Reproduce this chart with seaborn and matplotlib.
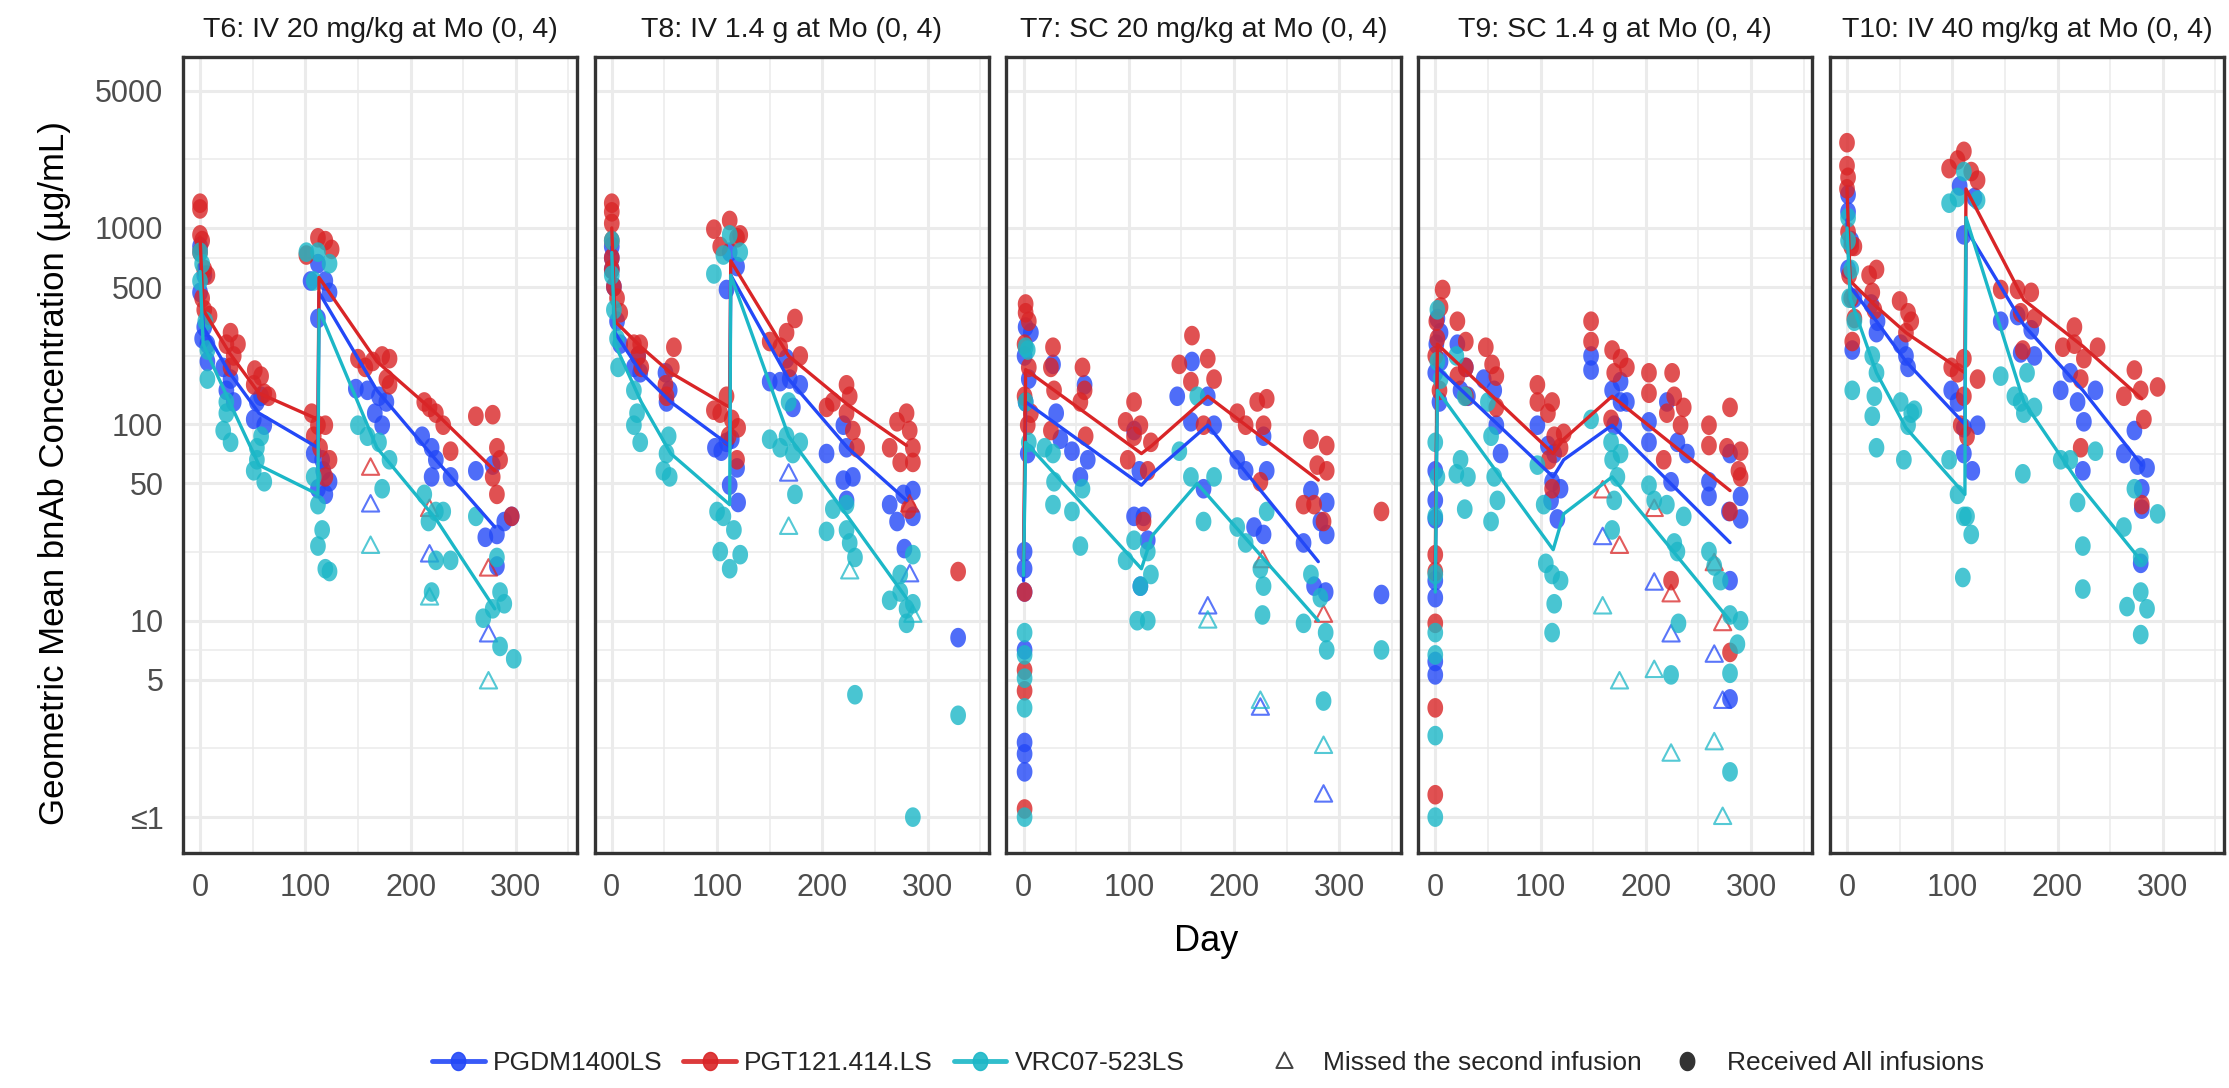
import numpy as np
import pandas as pd
import matplotlib
matplotlib.use("Agg")
import matplotlib.pyplot as plt
from matplotlib.path import Path
from matplotlib.lines import Line2D
from matplotlib.ticker import FixedLocator, NullFormatter
import seaborn as sns

sns.set_style("white")
plt.rcParams["font.family"] = ["Liberation Sans", "DejaVu Sans"]

panel_ids = ["T6", "T8", "T7", "T9", "T10"]
panel_titles = ["T6: IV 20 mg/kg at Mo (0, 4)", "T8: IV 1.4 g at Mo (0, 4)",
                "T7: SC 20 mg/kg at Mo (0, 4)", "T9: SC 1.4 g at Mo (0, 4)",
                "T10: IV 40 mg/kg at Mo (0, 4)"]
bnabs = ["PGDM1400LS", "PGT121.414.LS", "VRC07-523LS"]
bnab_colors = ["#2348F7", "#D92527", "#1CB7C7"]

y_breaks = [1, 5, 10, 50, 100, 500, 1000, 5000]
y_labels = ["≤1", "5", "10", "50", "100", "500", "1000", "5000"]
x_breaks = [0, 100, 200, 300]

# ---------------- T6 ----------------
t6_pgdm = [(0, 805), (4, 575), (0, 470), (4, 313), (7, 256), (7, 209), (2, 273),
           (22, 195), (29, 170), (32, 130), (25, 149),
           (58, 139), (51, 106), (61, 99), (54, 130),
           (108, 71), (116, 66), (112, 47), (119, 44), (123, 51), (117, 58),
           (112, 658), (119, 537), (105, 537), (123, 470), (112, 346),
           (148, 152), (159, 149), (170, 139), (177, 130), (166, 114), (173, 99),
           (211, 87), (220, 76), (224, 66), (220, 54), (238, 54),
           (262, 58), (278, 62), (271, 26.6), (282, 27.5), (289, 32), (296, 34), (282, 19)]
t6_pgt = [(0, 1337), (0, 1250), (0, 922), (2, 862), (0, 753), (4, 615), (7, 575), (2, 439), (4, 383), (9, 358),
          (29, 293), (25, 256), (32, 223), (29, 195), (36, 256),
          (52, 189), (58, 176), (51, 159), (61, 144), (65, 139),
          (106, 114), (112, 99), (119, 99), (108, 87), (114, 76), (123, 66), (119, 54),
          (112, 891), (119, 862), (125, 778), (101, 728),
          (150, 216), (157, 195), (164, 209), (173, 223), (180, 216), (177, 170), (180, 159),
          (213, 130), (218, 122), (224, 114), (231, 99), (238, 73),
          (262, 110), (278, 112), (282, 76), (285, 66), (278, 54), (282, 44), (296, 34)]
t6_vrc = [(2, 658), (0, 537), (5, 335), (7, 239), (7, 170), (0, 753),
          (25, 130), (22, 93), (29, 81), (25, 114),
          (54, 76), (51, 58), (61, 51), (58, 87), (54, 66),
          (108, 54), (112, 39), (116, 29), (112, 24), (119, 18.4), (123, 17.8),
          (101, 753), (112, 753), (123, 658), (108, 537),
          (150, 99), (159, 87), (170, 81), (180, 66), (173, 47),
          (213, 44), (217, 32), (224, 36), (231, 36), (224, 20.3), (238, 20.3), (220, 14),
          (262, 34), (282, 21), (285, 14), (278, 11.5), (269, 10.3), (289, 12.2), (285, 7.4), (298, 6.4)]
t6_pgdm_missed = [(162, 39), (218, 21.7), (274, 8.5)]
t6_pgt_missed = [(162, 60), (218, 37), (274, 18.4)]
t6_vrc_missed = [(162, 24), (218, 13.1), (274, 4.9)]
t6_pgdm_gm = [(0, 650), (3, 313), (28, 183), (56, 114), (112, 76), (113, 470), (168, 149), (224, 66), (280, 30)]
t6_pgt_gm = [(0, 900), (3, 383), (28, 231), (56, 144), (112, 106), (113, 560), (168, 209), (224, 114), (280, 58)]
t6_vrc_gm = [(0, 600), (3, 256), (28, 130), (56, 62), (112, 44), (113, 383), (168, 76), (224, 33), (280, 11.5)]

# ---------------- T8 ----------------
t8_pgdm = [(0, 805), (0, 615), (2, 502), (5, 335), (8, 256), (0, 704),
           (21, 195), (27, 183), (25, 223),
           (52, 130), (55, 149), (51, 183),
           (98, 76), (104, 73), (109, 81), (114, 84), (119, 60), (112, 49), (120, 40),
           (109, 486), (119, 636), (112, 753),
           (150, 165), (160, 165), (169, 170), (179, 159), (166, 216), (172, 122),
           (204, 71), (220, 99), (223, 76), (220, 52), (223, 41), (229, 54),
           (264, 39), (271, 32), (277, 44), (286, 46), (286, 34), (278, 23.3),
           (329, 8.2)]
t8_pgt = [(0, 1337), (0, 1208), (0, 1055), (0, 862), (0, 704), (0, 615), (2, 502), (5, 439), (8, 370),
          (21, 256), (27, 256), (25, 223), (28, 195),
          (51, 159), (59, 247), (57, 195), (52, 139),
          (97, 118), (103, 114), (109, 139), (114, 106), (120, 96), (111, 87), (119, 66),
          (97, 986), (103, 805), (112, 1092), (119, 891), (122, 922),
          (150, 264), (160, 247), (166, 293), (174, 346), (179, 223), (169, 195),
          (204, 122), (210, 130), (223, 159), (226, 139), (223, 114), (229, 93), (233, 76),
          (264, 76), (271, 103), (280, 114), (283, 93), (286, 76), (274, 64), (286, 64), (282, 37),
          (329, 17.8)]
t8_vrc = [(0, 862), (0, 575), (2, 383), (5, 273), (6, 195),
          (21, 149), (24, 114), (27, 81), (21, 99),
          (49, 58), (55, 54), (52, 71), (54, 87),
          (100, 36), (106, 34), (116, 29), (103, 22.5), (112, 18.4), (122, 21.7),
          (97, 583), (112, 922), (122, 753), (106, 728),
          (150, 84), (160, 76), (166, 87), (172, 71), (179, 81), (168, 130), (174, 44),
          (204, 28.5), (210, 37), (223, 29), (226, 24.9), (231, 21), (223, 39),
          (264, 12.7), (274, 17.2), (280, 11.5), (274, 14), (286, 12.2), (280, 9.7), (286, 21.7),
          (231, 4.2), (329, 3.3), (286, 1.0)]
t8_pgdm_missed = [(168, 56), (283, 17.2)]
t8_pgt_missed = [(283, 39)]
t8_vrc_missed = [(168, 30), (226, 17.8), (286, 10.7)]
t8_pgdm_gm = [(0, 800), (3, 293), (28, 183), (56, 130), (112, 78), (113, 575), (168, 170), (224, 76), (280, 41)]
t8_pgt_gm = [(0, 1000), (3, 335), (28, 247), (56, 183), (112, 122), (113, 680), (168, 223), (224, 126), (280, 78)]
t8_vrc_gm = [(0, 750), (3, 256), (28, 130), (56, 71), (112, 39), (113, 575), (168, 87), (224, 34), (280, 13)]

# ---------------- T7 ----------------
t7_pgdm = [(2, 313), (7, 293), (1, 223), (5, 170), (2, 130), (4, 71),
           (1, 22.5), (1, 18.4), (1, 14), (1, 7.1), (1, 2.4), (1, 2.1), (1, 1.7),
           (28, 202), (31, 114), (35, 84),
           (58, 159), (46, 73), (61, 66), (54, 54),
           (105, 93), (110, 58), (105, 34), (114, 34), (118, 25.7), (111, 15),
           (146, 139), (160, 209), (159, 103), (175, 139), (171, 47), (181, 99),
           (203, 66), (211, 58), (228, 87), (231, 58), (219, 30), (228, 27.5),
           (273, 46), (282, 32), (288, 40), (288, 27.5), (266, 24.9), (287, 14), (276, 15),
           (340, 13.6)]
t7_pgt = [(2, 370), (5, 335), (1, 256), (5, 195), (1, 139), (7, 114), (4, 99), (2, 410),
          (1, 14), (1, 5.6), (1, 4.4), (1, 1.1),
          (28, 247), (26, 195), (29, 149), (26, 93),
          (56, 195), (54, 130), (59, 87), (58, 149),
          (97, 103), (105, 130), (105, 87), (99, 66), (111, 99), (121, 81), (118, 58), (114, 32),
          (148, 202), (160, 283), (159, 165), (175, 216), (181, 170), (171, 99),
          (203, 114), (211, 99), (222, 130), (231, 135), (228, 99), (225, 51),
          (273, 84), (279, 62), (288, 78), (288, 58), (266, 39), (276, 39), (285, 32),
          (340, 36)]
t7_vrc = [(4, 239), (2, 130), (5, 81), (2, 247),
          (1, 8.7), (1, 6.7), (1, 5.1), (1, 3.6), (1, 1.0),
          (20, 76), (28, 71), (29, 51), (28, 39),
          (46, 36), (56, 47), (54, 24),
          (97, 20.3), (105, 25.7), (111, 15), (118, 10), (108, 10), (121, 17.2), (118, 22.5),
          (148, 73), (159, 54), (165, 139), (171, 32), (181, 54),
          (203, 30), (211, 24.9), (225, 18.4), (228, 15), (231, 36), (227, 10.7),
          (266, 9.7), (273, 17.2), (282, 13.1), (287, 8.7), (288, 7.1), (285, 3.9),
          (340, 7.1)]
t7_pgdm_missed = [(175, 11.8), (225, 3.6), (285, 1.3)]
t7_pgt_missed = [(227, 20.3), (285, 10.7)]
t7_vrc_missed = [(175, 10), (225, 3.9), (285, 2.3)]
t7_pgdm_gm = [(0, 16), (2, 130), (112, 49), (122, 56), (175, 99), (280, 20)]
t7_pgt_gm = [(0, 20), (2, 190), (112, 71), (122, 78), (175, 139), (280, 52)]
t7_vrc_gm = [(0, 17), (2, 81), (112, 18.4), (122, 27), (165, 50), (280, 10)]

# ---------------- T9 ----------------
t9_pgdm = [(2, 346), (5, 293), (1, 256), (5, 209), (0, 183), (4, 130), (0, 58), (0, 41), (0, 33),
           (0, 16), (0, 13.1), (0, 6.2), (0, 5.3),
           (21, 256), (29, 195), (24, 149), (31, 139),
           (46, 170), (56, 149), (58, 99), (62, 71),
           (97, 99), (107, 78), (113, 71), (111, 51), (110, 41), (119, 47), (116, 33),
           (148, 223), (148, 189),
           (168, 149), (176, 165), (176, 130), (182, 130), (170, 99),
           (203, 103), (203, 81), (220, 130), (230, 81), (239, 71), (224, 51),
           (260, 51), (260, 43), (280, 71), (290, 43), (290, 33), (279, 36), (280, 16), (280, 4.0)]
t9_pgt = [(7, 486), (5, 396), (1, 335), (2, 273), (0, 223), (4, 149),
          (0, 21.7), (0, 17.8), (0, 9.7), (0, 3.6), (0, 1.3),
          (21, 335), (29, 264), (29, 195), (21, 176), (29, 139),
          (48, 247), (54, 202), (58, 176), (58, 122),
          (97, 159), (97, 130), (107, 114), (111, 130), (113, 87), (108, 66), (122, 90), (119, 76), (111, 47),
          (148, 335), (148, 264),
          (168, 239), (176, 216), (182, 195), (170, 183), (167, 106),
          (203, 183), (203, 144), (225, 183), (227, 139), (236, 122), (220, 114), (217, 66), (233, 99),
          (260, 99), (260, 78), (280, 122), (277, 76), (290, 73), (288, 58), (290, 54), (280, 36),
          (224, 16), (280, 6.9)]
t9_vrc = [(2, 383), (2, 209), (5, 170), (0, 81), (2, 54), (0, 34), (0, 17.2), (0, 8.7), (0, 6.7), (0, 2.6), (0, 1.0),
          (20, 223), (28, 139), (24, 66), (20, 56), (31, 54), (28, 37),
          (50, 130), (53, 87), (56, 54), (59, 41), (53, 32),
          (97, 62), (103, 39), (105, 19.6), (111, 17.2), (113, 12.2), (119, 16), (111, 8.7),
          (148, 106),
          (167, 81), (168, 66), (176, 71), (173, 54), (170, 41), (168, 29),
          (203, 49), (208, 41), (220, 39), (227, 24.9), (230, 22.5), (236, 34), (231, 9.7), (224, 5.3),
          (260, 22.5), (265, 19), (271, 16), (280, 10.7), (290, 10), (287, 7.6), (280, 5.4), (280, 1.7)]
t9_pgdm_missed = [(159, 26.6), (208, 15.6), (224, 8.5), (265, 6.7), (273, 3.9)]
t9_pgt_missed = [(159, 46), (175, 24), (208, 37), (224, 13.6), (273, 9.7), (265, 19.6)]
t9_vrc_missed = [(159, 11.8), (175, 4.9), (208, 5.6), (224, 2.1), (265, 2.4), (273, 1.0)]
t9_pgdm_gm = [(0, 16), (2, 195), (112, 54), (122, 66), (168, 99), (280, 25)]
t9_pgt_gm = [(0, 20), (2, 256), (112, 71), (122, 84), (168, 139), (280, 46)]
t9_vrc_gm = [(0, 14), (2, 149), (112, 23), (122, 35), (168, 54), (280, 10)]

# ---------------- T10 ----------------
t10_pgdm = [(1, 1479), (1, 1208), (4, 862), (1, 615), (7, 439), (5, 239),
            (23, 410), (28, 293), (29, 335),
            (51, 256), (58, 195), (56, 223),
            (99, 149), (105, 130), (111, 96), (124, 99), (111, 71), (119, 58),
            (107, 1636), (111, 922), (121, 1430),
            (146, 335), (162, 358), (175, 303), (165, 231), (178, 223),
            (203, 149), (212, 183), (219, 130), (225, 103), (224, 58), (236, 149),
            (263, 71), (273, 93), (276, 62), (285, 60), (280, 47), (280, 37), (279, 19.6)]
t10_pgt = [(0, 2717), (0, 2074), (1, 1811), (0, 1582), (1, 953), (4, 805), (7, 805), (2, 575), (4, 439), (7, 346), (5, 264),
           (21, 575), (28, 615), (24, 470), (26, 383),
           (50, 425), (58, 370), (61, 335), (56, 293),
           (99, 195), (105, 183), (111, 216), (124, 170), (111, 139), (108, 99), (114, 87),
           (97, 2005), (105, 2218), (111, 2455), (118, 1937), (124, 1751),
           (146, 486), (162, 486), (175, 470), (165, 370), (178, 346), (167, 239),
           (205, 247), (216, 313), (216, 256), (225, 216), (238, 247), (222, 170), (222, 76),
           (263, 139), (273, 189), (279, 149), (282, 106), (295, 155), (280, 39)]
t10_vrc = [(1, 1129), (1, 862), (4, 615), (2, 439), (7, 335), (5, 149),
           (24, 223), (28, 183), (26, 139), (24, 110), (28, 76),
           (51, 130), (58, 99), (54, 66), (61, 114), (64, 118),
           (97, 66), (105, 44), (111, 34), (118, 27.5), (110, 16.6), (114, 34),
           (97, 1337), (105, 1430), (111, 1937), (124, 1382),
           (146, 176),
           (159, 139), (165, 130), (168, 114), (167, 56), (178, 122), (171, 183),
           (203, 66), (212, 66), (219, 40), (224, 24), (224, 14.5), (236, 73),
           (263, 30), (273, 47), (279, 21), (266, 11.8), (279, 14), (285, 11.5), (279, 8.5), (295, 35)]
t10_pgdm_missed = []
t10_pgt_missed = []
t10_vrc_missed = []
t10_pgdm_gm = [(0, 1100), (3, 502), (28, 335), (56, 209), (112, 100), (113, 990), (168, 320), (224, 149), (280, 62)]
t10_pgt_gm = [(0, 1600), (3, 537), (28, 397), (56, 293), (112, 183), (113, 1580), (168, 430), (224, 250), (280, 135)]
t10_vrc_gm = [(0, 1000), (3, 439), (28, 183), (56, 96), (112, 44), (113, 1130), (168, 130), (224, 47), (280, 20)]

received = {
    "T6": [t6_pgdm, t6_pgt, t6_vrc], "T8": [t8_pgdm, t8_pgt, t8_vrc],
    "T7": [t7_pgdm, t7_pgt, t7_vrc], "T9": [t9_pgdm, t9_pgt, t9_vrc],
    "T10": [t10_pgdm, t10_pgt, t10_vrc],
}
missed = {
    "T6": [t6_pgdm_missed, t6_pgt_missed, t6_vrc_missed], "T8": [t8_pgdm_missed, t8_pgt_missed, t8_vrc_missed],
    "T7": [t7_pgdm_missed, t7_pgt_missed, t7_vrc_missed], "T9": [t9_pgdm_missed, t9_pgt_missed, t9_vrc_missed],
    "T10": [t10_pgdm_missed, t10_pgt_missed, t10_vrc_missed],
}
gmean = {
    "T6": [t6_pgdm_gm, t6_pgt_gm, t6_vrc_gm], "T8": [t8_pgdm_gm, t8_pgt_gm, t8_vrc_gm],
    "T7": [t7_pgdm_gm, t7_pgt_gm, t7_vrc_gm], "T9": [t9_pgdm_gm, t9_pgt_gm, t9_vrc_gm],
    "T10": [t10_pgdm_gm, t10_pgt_gm, t10_vrc_gm],
}


def to_frame(pts):
    return pd.DataFrame(pts, columns=["day", "conc"]) if pts else pd.DataFrame(columns=["day", "conc"])


# markers slightly taller than wide, like the source
th = np.linspace(0, 2 * np.pi, 48)
ellipse = Path(np.column_stack([0.4 * np.cos(th), 0.5 * np.sin(th)]), closed=True)
triangle = Path([[-0.45, -0.36], [0.45, -0.36], [0.0, 0.5], [-0.45, -0.36]], closed=True)

fig, axes = plt.subplots(1, 5, figsize=(22.29, 10.88), dpi=100, sharey=True)
fig.subplots_adjust(left=0.082, right=0.9978, top=0.9479, bottom=0.2157, wspace=0.0441)

grid_col = "#EBEBEB"
minor_y = [2.236, 7.071, 22.36, 70.71, 223.6, 707.1, 2236]

for i, (ax, pid, title) in enumerate(zip(axes, panel_ids, panel_titles)):
    ax.set_yscale("log")
    for j, col in enumerate(bnab_colors):
        rec = to_frame(received[pid][j])
        sns.scatterplot(data=rec, x="day", y="conc", ax=ax, color=col, marker=ellipse,
                        s=200, alpha=0.8, linewidth=0, edgecolor="none", zorder=3)
        mis = to_frame(missed[pid][j])
        if len(mis):
            sns.scatterplot(data=mis, x="day", y="conc", ax=ax, marker=triangle, s=190,
                            facecolor="none", edgecolor=col, color=col, linewidth=1.5,
                            alpha=0.75, zorder=3)
    for j, col in enumerate(bnab_colors):
        gm = to_frame(gmean[pid][j])
        sns.lineplot(data=gm, x="day", y="conc", ax=ax, color=col, lw=2.4,
                     estimator=None, sort=False, zorder=4)

    ax.set_xlim(-16.4, 358.2)
    ax.set_ylim(10 ** -0.1843, 10 ** 3.8721)
    ax.set_xticks(x_breaks)
    ax.set_xticklabels([str(v) for v in x_breaks])
    ax.xaxis.set_minor_locator(FixedLocator([50, 150, 250, 350]))
    ax.yaxis.set_major_locator(FixedLocator(y_breaks))
    ax.yaxis.set_minor_locator(FixedLocator(minor_y))
    ax.yaxis.set_minor_formatter(NullFormatter())
    ax.set_yticklabels(y_labels)
    ax.grid(which="major", color=grid_col, lw=2.2, zorder=0)
    ax.grid(which="minor", color=grid_col, lw=1.1, zorder=0)
    ax.set_axisbelow(True)
    for sp in ax.spines.values():
        sp.set_color("#333333")
        sp.set_linewidth(2.4)
    ax.tick_params(which="major", length=7, width=2, color="#333333",
                   labelsize=22, labelcolor="#4D4D4D", pad=7)
    ax.tick_params(which="minor", length=0)
    if i > 0:
        ax.tick_params(axis="y", which="both", left=False, labelleft=False)
    ax.set_xlabel("")
    ax.set_ylabel("")
    ax.set_title(title, fontsize=20.5, color="#1A1A1A", pad=14)

fig.text(0.0245, 0.565, "Geometric Mean bnAb Concentration (µg/mL)", rotation=90,
         ha="center", va="center", fontsize=25, color="black")
fig.text(0.541, 0.135, "Day", ha="center", va="center", fontsize=26, color="black")

bnab_handles = [Line2D([0], [0], color=c, lw=3.5, marker=ellipse, markersize=13, alpha=0.9)
                for c in bnab_colors]
fig.legend(bnab_handles, bnabs, loc="center", bbox_to_anchor=(0.3625, 0.023), ncol=3,
           frameon=False, fontsize=19, handlelength=2.0, handletextpad=0.3, columnspacing=0.8)

shape_handles = [Line2D([0], [0], ls="none", marker=triangle, markersize=13, markerfacecolor="none",
                        markeredgecolor="#444444", markeredgewidth=1.4),
                 Line2D([0], [0], ls="none", marker=ellipse, markersize=13, color="#333333")]
fig.legend(shape_handles, ["Missed the second infusion", "Received All infusions"], loc="center",
           bbox_to_anchor=(0.730, 0.023), ncol=2, frameon=False, fontsize=19,
           handlelength=1.0, handletextpad=1.0, columnspacing=1.2)

fig.savefig("out.png", dpi=100)
plt.close(fig)
